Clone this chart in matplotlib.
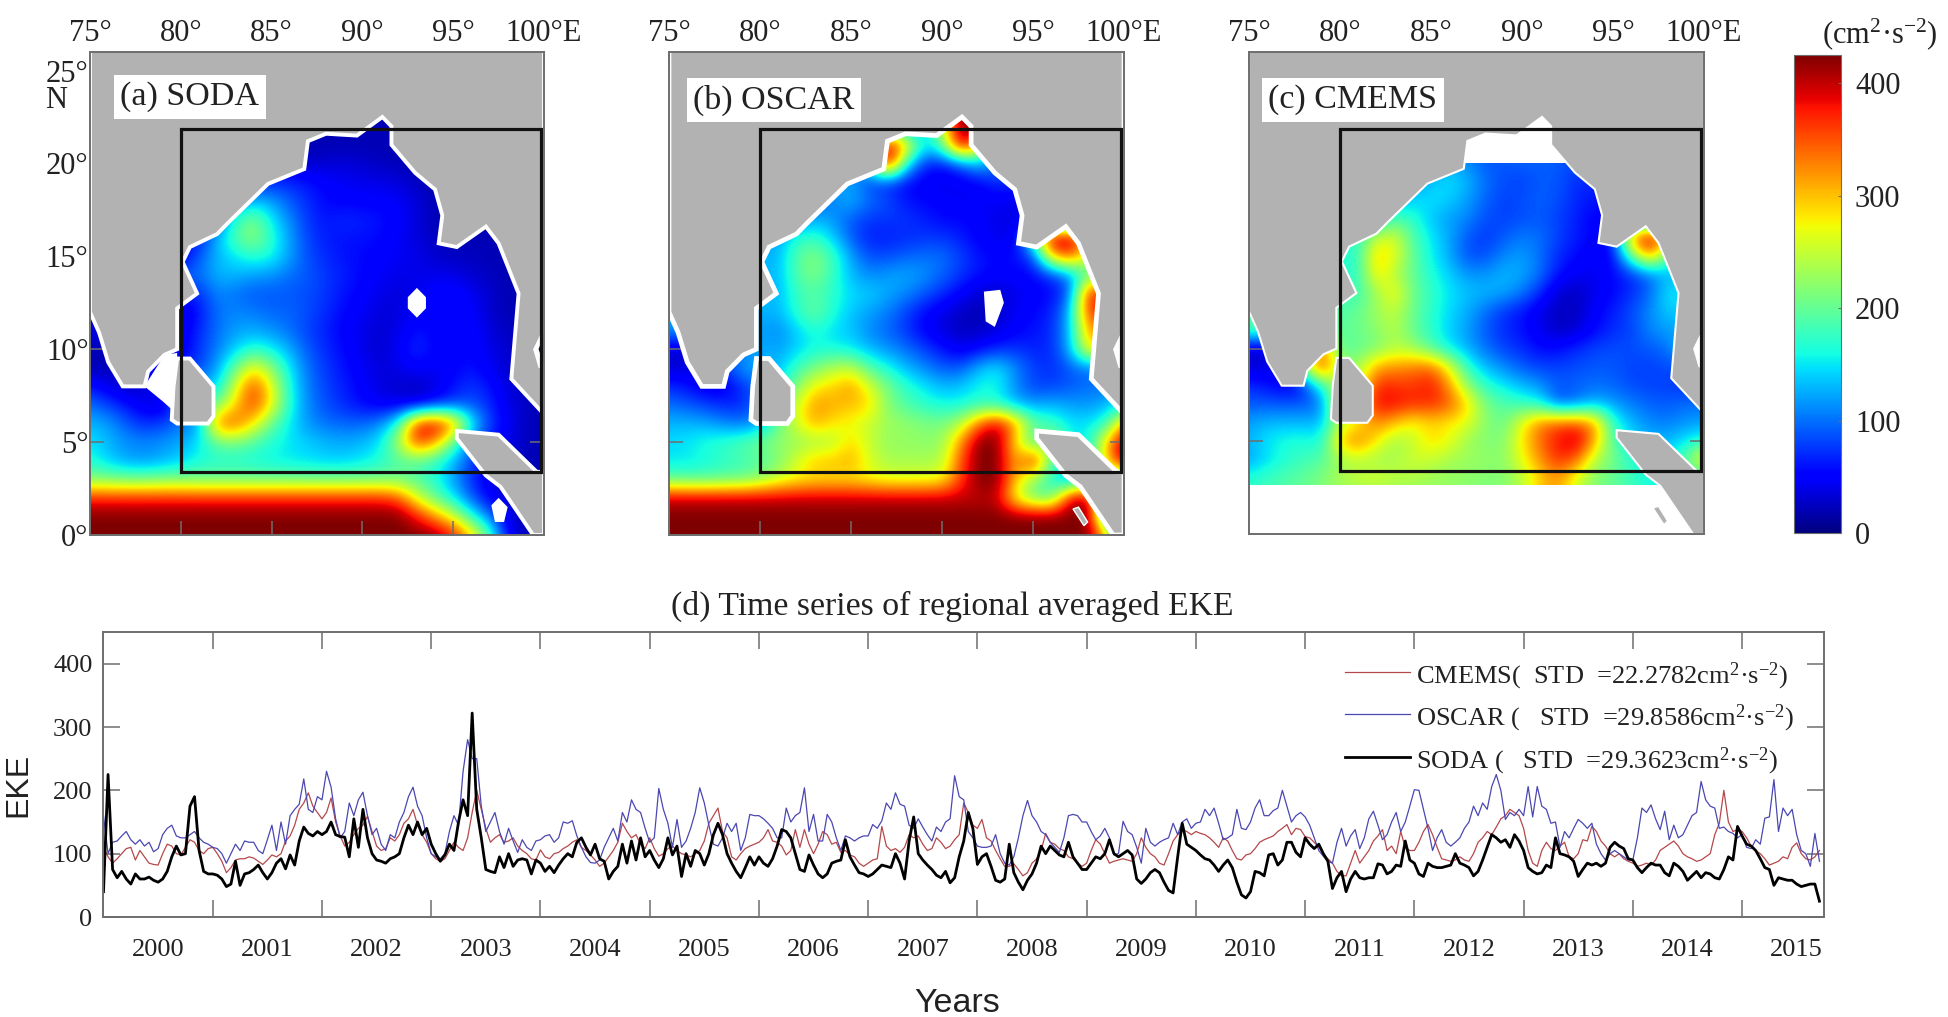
import numpy as np
import matplotlib
matplotlib.use('Agg')
import matplotlib.pyplot as plt
from matplotlib.patches import Polygon, Rectangle

plt.rcParams['font.family'] = 'Liberation Serif'
plt.rcParams['mathtext.fontset'] = 'custom'
plt.rcParams['mathtext.rm'] = 'Liberation Serif'
plt.rcParams['mathtext.it'] = 'Liberation Serif'

W, H = 1949, 1017

# EKE maps, read by eye on a 1 degree grid (lon 75..100, rows from north to south)
soda_map = [
    [20]*26,
    [20]*26,
    [40]*10 + [40,30,30,30,35,30,25,20,20,20] + [20]*6,
    [60]*10 + [70,70,60,50,45,40,40,35,25,20] + [20]*6,
    [100]*9 + [130] + [120,90,70,55,50,50,50,45,35,20] + [20]*6,
    [80]*8 + [170,215] + [150,110,75,60,70,65,60,50,35,20] + [20]*6,
    [60]*7 + [130,190,225] + [170,120,80,65,60,60,55,45,35,25] + [20]*6,
    [40]*6 + [90,130,150,170] + [160,120,85,70,60,55,50,45,40,30] + [25,25,20,20,20,20],
    [100]*7 + [130,130,120] + [115,100,90,75,65,55,45,40,40,40] + [40,30,25,20,20,20],
    [70]*7 + [110,100,90] + [90,90,85,75,60,50,40,35,40,55] + [55,45,30,20,20,20],
    [30]*6 + [60,100,110,105] + [95,95,85,70,55,45,35,35,50,55] + [55,50,30,20,20,20],
    [40]*6 + [70,100,120,125] + [115,100,80,65,50,40,30,40,60,50] + [50,55,35,25,20,20],
    [20,20,20,20,20,40,75,105,140,170] + [155,125,90,70,55,40,30,45,75,50] + [50,55,40,30,20,20],
    [20,20,30,40,60,70,80,120,200,280] + [220,150,100,75,60,45,35,40,50,45] + [50,60,45,30,25,20],
    [60,40,25,30,70,100,130,140,260,360] + [270,160,105,80,65,50,35,30,25,35] + [60,75,60,35,25,20],
    [100,80,60,40,30,100,180,210,290,365] + [275,165,110,85,70,55,45,40,35,60] + [80,90,70,40,25,20],
    [130,120,90,70,80,100,110,340,350,280] + [200,150,115,100,95,95,110,170,380,405] + [340,160,80,45,25,20],
    [150,130,115,110,115,125,150,200,210,190] + [165,150,140,130,125,130,150,240,370,320] + [200,100,60,40,25,20],
    [165,140,120,115,125,140,160,165,165,160] + [155,150,145,140,140,150,165,190,190,170] + [130,80,50,30,20,20],
    [215,210,205,205,210,210,205,205,205,205] + [205,205,205,205,205,205,205,205,190,165] + [120,70,40,20,20,20],
    [370]*10 + [370,370,370,370,370,370,370,350,260,200] + [150,90,50,30,20,20],
    [425]*10 + [425,425,425,425,425,425,425,425,380,320] + [260,170,100,40,20,20],
    [425]*10 + [425,425,425,425,425,425,425,425,425,420] + [380,300,190,50,20,20],
]
oscar_map = [
    [100]*10 + [100,100,100,100,100,250,425,425,150,100] + [100]*6,
    [100]*10 + [100,200,425,300,150,200,425,300,100,100] + [100]*6,
    [100]*10 + [100,180,425,160,70,60,90,140,100,80] + [80]*6,
    [100]*9 + [120] + [120,80,70,55,45,40,45,50,75,70] + [70]*6,
    [90]*9 + [110] + [130,100,85,60,55,50,45,45,45,40] + [40]*6,
    [100]*8 + [130,115] + [90,75,75,75,65,55,55,50,40,40] + [40]*6,
    [120]*7 + [170,175,140] + [90,65,65,70,75,75,65,50,40,40] + [200,425,425,300,100,100],
    [130]*7 + [190,220,180] + [120,85,85,95,100,100,80,60,55,60] + [80,300,350,250,150,100],
    [130]*7 + [190,215,175] + [130,110,120,125,115,95,75,60,50,50] + [55,70,110,200,200,150],
    [130]*7 + [175,190,170] + [145,140,125,110,90,70,50,30,30,40] + [50,55,90,380,380,150],
    [130]*7 + [170,205,165] + [135,120,105,80,55,40,25,20,30,45] + [55,65,130,370,370,150],
    [120]*6 + [110,140,165,145] + [135,110,95,75,50,35,25,25,35,50] + [60,70,130,320,320,150],
    [30,30,30,60,100,130,120,140,160,160] + [150,130,115,100,80,60,40,55,70,75] + [65,70,130,290,290,150],
    [30,35,40,80,120,125,130,180,210,240] + [250,190,160,130,110,90,90,130,150,110] + [80,70,90,100,100,100],
    [70,60,40,40,70,100,150,215,280,290] + [320,260,210,170,150,130,135,160,160,110] + [80,80,90,100,100,120],
    [100,90,80,70,70,100,200,260,320,310] + [300,290,215,190,170,160,160,170,165,130] + [120,130,120,115,130,150],
    [130,130,125,110,100,120,200,260,310,280] + [270,250,230,225,215,210,240,340,400,320] + [200,180,150,150,170,330],
    [145,150,165,175,190,210,225,225,230,240] + [290,250,225,225,220,225,320,425,425,280] + [170,250,150,150,300,425],
    [150,150,160,170,180,190,210,260,300,300] + [310,260,235,235,235,240,350,425,425,300] + [400,180,150,150,300,425],
    [195,190,190,195,200,220,250,270,280,280] + [280,270,260,260,260,270,360,425,425,300] + [220,170,90,150,150,150],
    [400]*10 + [400,400,400,400,400,400,400,400,400,260] + [200,190,400,425,100,100],
    [425]*10 + [425]*10 + [425,425,425,425,100,100],
    [425]*10 + [425]*10 + [425,425,425,425,300,100],
]
# CMEMS only has data from 20N down to about 2.6N, rows are 20..2
cmems_map = [
    [115]*10 + [115,120,110,90,90,95,95,90,85,85] + [85]*6,
    [120]*10 + [130,150,130,100,85,80,90,90,70,70] + [70]*6,
    [120]*9 + [140] + [150,140,120,95,80,85,95,85,70,60] + [60]*6,
    [130]*8 + [190,170] + [135,120,110,85,80,85,90,80,65,50] + [50]*6,
    [170]*7 + [250,260,190] + [150,125,90,75,90,105,100,80,65,50] + [60,330,425,300,100,100],
    [170]*7 + [300,270,200] + [155,125,85,85,110,120,100,70,55,45] + [50,200,330,200,100,100],
    [170]*7 + [290,240,200] + [165,140,115,115,130,125,100,60,45,45] + [55,70,100,130,130,130],
    [180]*7 + [230,280,205] + [175,150,135,130,125,105,70,30,25,40] + [55,70,95,150,150,150],
    [190]*6 + [200,230,250,205] + [170,145,125,100,75,60,40,25,25,50] + [65,85,110,140,140,140],
    [195]*6 + [205,220,245,200] + [170,140,120,90,70,60,40,25,30,55] + [70,80,110,120,120,120],
    [30,30,60,150,340,190,200,210,240,230] + [190,150,125,100,80,70,55,55,70,80] + [85,85,90,100,150,150],
    [30,35,60,240,380,230,230,310,320,330] + [340,270,170,130,110,90,80,80,85,90] + [90,80,80,85,85,85],
    [70,60,40,60,170,240,240,370,365,360] + [380,320,220,170,150,130,115,90,95,100] + [95,85,80,80,70,70],
    [90,90,90,90,100,290,290,385,385,370] + [370,350,290,210,190,175,160,85,100,130] + [120,105,95,90,100,100],
    [120,130,130,130,130,240,270,330,300,270] + [290,280,265,220,200,270,330,350,350,320] + [170,130,110,105,115,120],
    [130,150,165,165,160,300,340,280,230,250] + [290,270,230,215,215,280,340,380,410,310] + [190,150,130,130,150,170],
    [120,145,165,180,190,230,240,230,235,255] + [250,235,230,225,220,270,320,370,340,240] + [210,170,150,150,200,300],
    [170,180,190,200,215,240,250,260,245,240] + [230,225,220,215,215,240,290,320,260,215] + [200,180,160,160,160,160],
    [170,180,190,200,210,220,225,225,225,225] + [225,225,220,215,215,250,310,320,250,215] + [200,180,160,160,160,160],
]

# coastlines (lon, lat)
mainland = [(75,26.5),(75,12),(75.5,10.9),(76,9.3),(76.8,8),(78,8),(78.2,8.8),(79.1,9.7),(79.8,10),(79.8,12.2),
            (80.9,13),(80.1,14.7),(80.5,15.5),(82,16.2),(82.6,16.8),(84.8,18.9),(86.8,19.7),(87,21.2),(88,21.6),
            (89.7,21.5),(91.1,22.5),(91.6,22),(91.6,21),(92.9,19.5),(94,18.6),(94.4,17.2),(94.2,15.7),(95.2,15.5),
            (96.8,16.6),(97.5,15.7),(98.6,13),(98.2,8.4),(100,6.5),(100,26.5)]
sri_lanka = [(79.8,9.5),(80.5,9.5),(81.8,8),(81.8,6.4),(81.5,6),(79.8,6),(79.5,6.2),(79.6,8)]
sumatra = [(95.2,5.6),(97.5,5.4),(99.6,3.4),(100,3.4),(100,0),(99.4,0),(97.6,2.6),(96.8,3.2),(95.2,5.2)]
gulf = [(100,11.2),(99.4,10),(99.7,9),(100,8.9)]
gulf_sea = [(100,10.8),(99.7,10),(100,9.2)]
gap_india = [(78,8),(79.1,9.7),(79.8,9.8),(79.8,6.5),(79,7.2)]
andaman_a = [(92.5,12.8),(93,13.3),(93.5,12.8),(93.5,12.2),(93,11.7),(92.5,12.2)]
andaman_b = [(92.3,13.1),(93.2,13.2),(93.4,12.5),(92.9,11.2),(92.4,11.5)]
nicobar = [(97.1,1.6),(97.5,2),(98,1.5),(97.8,0.7),(97.3,0.7)]
sliver = [(97.2,1.4),(97.5,1.5),(98,0.7),(97.8,0.5)]

# time series: 24 values a year, 2015 stops after 18 (read by eye)
soda_eke = [
    40,225,75,62,72,60,52,68,60,60,63,58,55,60,72,95,112,98,100,175,190,105,72,68,
    68,66,60,48,52,88,50,68,70,75,82,70,60,70,85,92,76,98,82,120,142,132,128,135,
    130,135,150,130,127,126,95,155,110,170,125,100,90,88,85,92,95,100,125,145,130,150,130,140,
    115,100,88,98,115,105,150,185,160,322,170,125,75,72,70,95,78,100,80,90,92,90,68,90,
    85,72,80,70,82,92,100,95,118,125,110,98,115,92,88,60,72,80,115,85,120,90,125,95,
    105,90,78,92,125,98,112,64,100,80,105,100,82,100,130,148,130,100,85,72,62,78,95,82,
    95,85,80,92,112,138,135,125,100,75,72,98,82,68,62,68,85,88,90,122,95,82,70,68,
    64,68,75,82,80,78,100,85,60,120,158,100,90,82,75,66,62,72,54,62,95,120,165,140,
    83,95,100,80,58,55,60,115,70,55,43,58,68,85,112,100,112,105,98,95,118,95,85,75,
    75,85,95,92,100,122,100,95,100,105,98,60,53,60,70,75,70,55,42,38,95,148,115,110,
    105,98,92,90,82,72,82,90,78,55,35,30,40,72,70,65,98,100,82,90,118,118,102,95,
    125,115,108,115,100,88,45,62,72,40,60,72,62,60,62,62,84,82,68,72,82,80,120,90,
    85,68,64,85,80,78,78,80,82,100,85,82,78,65,72,90,110,130,125,118,122,110,130,120,
    105,78,72,68,70,82,78,125,100,98,95,88,64,75,85,82,85,80,85,110,118,112,108,92,
    90,78,70,78,85,82,82,70,65,85,80,72,58,65,72,62,70,68,62,60,75,95,90,143,
    128,115,112,105,92,78,75,50,62,60,58,58,52,48,50,52,52,25,
]
oscar_eke = [
    160,100,118,120,128,135,122,115,122,112,118,103,108,130,140,145,128,125,125,130,135,125,118,115,
    110,108,100,85,100,115,105,120,118,118,105,100,122,145,105,150,115,160,170,178,218,170,165,190,
    185,230,205,155,125,135,180,160,185,197,160,130,140,115,105,130,125,150,165,190,205,175,160,125,
    100,95,92,100,135,160,145,230,280,250,250,175,135,150,165,135,115,140,120,102,122,110,105,120,
    122,128,130,118,125,150,148,152,128,110,95,86,85,90,110,125,140,120,165,150,185,170,165,140,
    118,125,203,170,148,110,154,110,120,140,165,204,180,145,115,112,125,148,135,148,105,125,162,160,
    160,155,148,140,125,125,172,150,160,165,204,135,162,120,120,162,150,125,105,128,125,120,125,128,
    128,146,140,152,180,170,196,178,175,145,140,155,142,130,120,142,135,150,155,223,190,185,135,125,
    112,110,110,112,130,100,85,82,95,125,160,184,160,150,135,130,118,110,102,125,160,162,160,150,
    150,135,122,128,140,125,98,100,151,135,130,110,85,140,118,112,118,122,125,148,130,150,155,140,
    148,150,170,160,172,148,122,125,130,170,140,138,150,172,185,160,160,168,172,200,175,150,160,165,
    158,145,125,105,96,88,85,118,140,112,128,138,108,125,155,167,145,122,130,150,165,135,150,175,
    201,200,170,140,105,125,138,118,112,118,125,140,150,175,160,180,170,206,225,200,154,165,160,170,
    160,206,158,206,175,170,148,150,110,135,125,140,154,148,140,148,115,100,90,100,105,100,95,90,
    90,125,172,165,177,155,138,167,122,145,125,130,145,160,165,214,185,175,172,140,142,135,132,125,
    130,110,108,122,115,156,158,217,135,172,160,170,130,105,100,80,132,88,
]
cmems_eke = [
    110,95,85,92,100,108,110,90,105,95,85,83,82,100,115,112,100,98,110,122,118,105,100,108,
    110,100,88,70,78,90,92,92,95,93,88,83,90,98,95,100,120,128,145,170,180,196,175,165,
    155,165,188,150,128,112,118,130,140,145,159,135,112,105,108,125,120,130,148,155,170,145,130,118,
    100,92,88,92,105,118,110,105,125,165,200,170,140,118,125,130,118,120,125,112,105,100,92,90,
    106,95,92,100,102,108,112,118,122,110,105,98,90,80,85,95,105,118,148,135,125,130,115,108,
    125,108,96,100,108,112,105,100,98,95,100,105,120,148,160,172,135,125,95,90,100,108,112,115,
    118,125,138,120,118,112,98,105,138,110,138,115,100,115,135,130,115,118,102,105,98,95,85,80,
    85,90,92,143,112,105,108,102,110,130,125,128,115,105,108,125,118,108,112,122,130,180,165,145,
    140,154,125,120,105,92,80,80,84,75,65,70,85,92,105,132,118,115,108,105,95,92,85,80,
    85,105,122,115,100,85,88,90,92,90,88,100,125,110,100,95,85,82,100,120,130,138,135,130,
    135,132,130,125,118,110,125,120,105,92,90,98,100,108,118,122,125,128,135,140,146,130,140,138,
    127,125,118,110,100,92,85,72,65,65,85,105,85,95,105,120,128,138,105,112,100,135,110,105,
    105,118,135,146,130,110,92,90,88,90,95,90,88,100,118,125,135,130,142,155,160,170,165,160,
    140,105,85,80,105,118,108,105,112,118,95,92,100,122,120,143,135,120,112,100,95,100,92,88,
    85,80,82,85,82,90,105,110,115,120,112,100,95,92,88,90,95,100,130,148,200,150,135,138,
    135,125,112,105,100,92,82,85,88,95,92,110,117,100,92,90,95,105,
]

years = list(range(2000, 2016))
legend_labels = [r'CMEMS(  STD  =22.2782cm$^{2}$·s$^{-2}$)',
                 r'OSCAR (   STD  =29.8586cm$^{2}$·s$^{-2}$)',
                 r'SODA (   STD  =29.3623cm$^{2}$·s$^{-2}$)']

GRID = '#6e6e6e'
LAND = '#b2b2b2'
VMAX = 425


def px_axes(fig, left, top, right, bottom):
    return fig.add_axes([left / W, 1 - bottom / H, (right - left) / W, (bottom - top) / H])


fig = plt.figure(figsize=(W / 100, H / 100), dpi=100)

panels = [
    (soda_map, 22, (90, 52, 544, 535), '(a) SODA', (190, 97), 2.8),
    (oscar_map, 22, (669, 52, 1124, 535), '(b) OSCAR', (774, 100), 3.4),
    (cmems_map, 20, (1249, 52, 1704, 534), '(c) CMEMS', (1353, 100), 1.5),
]

for k, (grid, north, box, name, name_xy, edge) in enumerate(panels):
    ax = px_axes(fig, *box)
    field = np.array(grid, dtype=float)
    south = north - field.shape[0] + 1
    im = ax.imshow(field, extent=(74.5, 100.5, south - 0.5, north + 0.5), cmap='jet', vmin=0, vmax=VMAX,
                   interpolation='bicubic', aspect='auto', zorder=1)
    ax.set_xlim(75, 100)
    ax.set_ylim(0, 26)

    if k == 2:
        ax.add_patch(Rectangle((74, 20), 27, 3, fc='white', ec='none', zorder=2))
        ax.add_patch(Rectangle((74, -1), 27, 3.65, fc='white', ec='none', zorder=2))
    for poly in (mainland, sri_lanka, sumatra):
        ax.add_patch(Polygon(poly, closed=True, fc=LAND, ec='white', lw=edge, zorder=3))
    ax.add_patch(Polygon(gulf, closed=True, fc='white', ec='none', zorder=4))
    if k == 0:
        ax.add_patch(Polygon(gap_india, closed=True, fc='white', ec='none', zorder=2))
        ax.add_patch(Polygon(andaman_a, closed=True, fc='white', ec='none', zorder=4))
        ax.add_patch(Polygon(nicobar, closed=True, fc='white', ec='none', zorder=4))
        ax.add_patch(Polygon(gulf_sea, closed=True, fc='#00007f', ec='none', zorder=4))
    if k == 1:
        ax.add_patch(Polygon(andaman_b, closed=True, fc='white', ec='none', zorder=4))
    if k > 0:
        ax.add_patch(Polygon(sliver, closed=True, fc=LAND, ec='white', lw=1, zorder=4))

    # study box
    ax.add_patch(Rectangle((80, 3.4), 19.85, 18.45, fc='none', ec='#111111', lw=2.3, zorder=5))

    ax.set_xticks(range(75, 101, 5))
    ax.set_yticks(range(0, 26, 5))
    ax.set_xticklabels(['75°', '80°', '85°', '90°', '95°', '100°E'], fontsize=22, color='#222222')
    if k == 0:
        ax.set_yticklabels(['0°', '5°', '10°', '15°', '20°', '25°'], fontsize=22, color='#222222')
    else:
        ax.set_yticklabels([])
    ax.tick_params(direction='in', length=10, width=1.1, color=GRID, top=True, right=True,
                   bottom=True, left=True, labeltop=True, labelbottom=False)
    ax.tick_params(axis='x', pad=3)
    ax.tick_params(axis='y', pad=1)
    for s in ax.spines.values():
        s.set_color(GRID)
        s.set_linewidth(1.4)
        s.set_zorder(6)
    ax.text(name_xy[0] / W, 1 - name_xy[1] / H, name, transform=fig.transFigure, fontsize=24.5, ha='center',
            va='center', color='#222222', zorder=7,
            bbox=dict(facecolor='white', edgecolor='none', pad=5))

fig.text(56 / W, 1 - 100 / H, 'N', fontsize=22, ha='center', va='center', color='#222222')

# colorbar
cax = px_axes(fig, 1794, 55, 1841, 533)
cb = fig.colorbar(im, cax=cax)
cb.set_ticks([0, 100, 200, 300, 400])
cax.tick_params(direction='in', length=2, width=0.8, color=GRID, labelsize=22, labelcolor='#222222', pad=10)
cb.outline.set_edgecolor(GRID)
cb.outline.set_linewidth(0.8)
fig.text(1880 / W, 1 - 34 / H, r'(cm$^{2}$·s$^{-2}$)', fontsize=22, ha='center', va='center', color='#222222')

# time series
tx = px_axes(fig, 103.5, 632, 1824, 917)
for vals, col, lw in ((cmems_eke, '#b5484a', 0.9), (oscar_eke, '#4b47b2', 0.9), (soda_eke, 'black', 2.0)):
    t = 2000 + np.arange(len(vals)) / 24
    tx.plot(t, vals, color=col, lw=lw)
tx.set_xlim(2000, 2015.75)
tx.set_ylim(0, 450)
tx.set_xticks(range(2001, 2016))
tx.set_xticklabels([])
tx.set_xticks([y + 0.5 for y in years], minor=True)
tx.set_xticklabels([str(y) for y in years], minor=True, fontsize=19, color='#222222')
tx.set_yticks([0, 100, 200, 300, 400])
tx.tick_params(axis='both', which='major', direction='in', length=12, width=1.1, color=GRID,
               top=True, right=True, labelsize=19, labelcolor='#222222')
tx.tick_params(axis='x', which='minor', length=0, pad=16)
tx.tick_params(axis='y', pad=8)
for s in tx.spines.values():
    s.set_color(GRID)
    s.set_linewidth(1.4)

fig.text(952 / W, 1 - 606 / H, '(d) Time series of regional averaged EKE', fontsize=24.3, ha='center', va='center',
         color='#222222')
fig.text(18 / W, 1 - 785 / H, 'EKE', fontsize=23, family='Liberation Sans', rotation=90, ha='center', va='center',
         color='#222222')
fig.text(957 / W, 1 - 1004 / H, 'Years', fontsize=24.5, family='Liberation Sans', ha='center', va='center',
         color='#222222')

# legend, placed by hand like in the original
rows_y = [672, 714, 757]
for y, lab, col, lw in zip(rows_y, legend_labels, ('#b5484a', '#4b47b2', 'black'), (0.9, 0.9, 2.0)):
    fig.add_artist(plt.Line2D([1345 / W, 1410 / W], [1 - y / H, 1 - y / H], color=col, lw=lw))
    fig.text(1416 / W, 1 - (y + 4) / H, lab, fontsize=19, ha='left', va='center', color='#222222')

fig.savefig('out.png', dpi=100)
